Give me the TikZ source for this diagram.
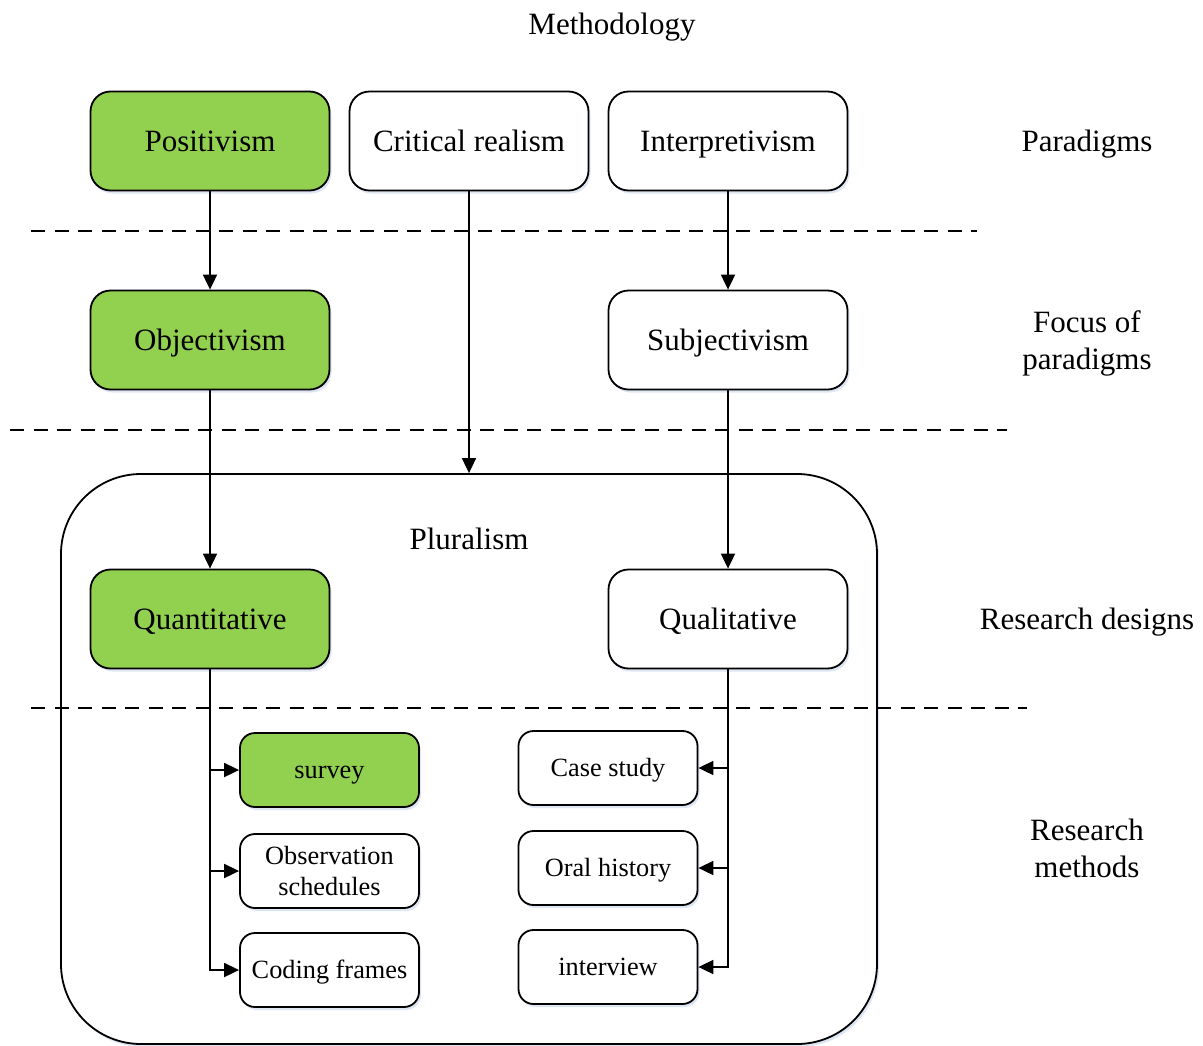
\documentclass[tikz,border=0pt]{standalone}
\usepackage{fontspec}
\setmainfont{Liberation Serif}
\usetikzlibrary{arrows.meta,shadows}
\definecolor{boxgreen}{RGB}{146,208,80}
\definecolor{shadowblue}{RGB}{200,214,236}
\begin{document}
\begin{tikzpicture}[x=1pt,y=-1pt,
  shade/.style={drop shadow={shadow xshift=2pt,shadow yshift=-3pt,fill=shadowblue,opacity=0.6}},
  onebig/.style={text height=20.5pt, text depth=0pt},
  onesmall/.style={text height=17.4pt, text depth=0pt},
  bigbox/.style={draw, line width=1.8pt, rounded corners=20pt, minimum width=239pt,
    minimum height=99pt, inner sep=0pt, fill=white, shade, align=center,
    font=\fontsize{31}{37}\selectfont},
  smallbox/.style={draw, line width=1.8pt, rounded corners=15pt, minimum width=179pt,
    minimum height=74pt, inner sep=0pt, fill=white, shade, align=center,
    font=\fontsize{26.3}{31}\selectfont},
  green/.style={fill=boxgreen},
  lbl/.style={align=center, inner sep=0pt, font=\fontsize{31}{37}\selectfont},
  sep/.style={line width=1.8pt, dash pattern=on 14pt off 9.5pt},
  conn/.style={line width=1.8pt, -{Triangle[length=15pt,width=14pt]}}
]
\clip (0,0) rectangle (1203,1045);
\fill[white] (0,0) rectangle (1203,1045);

% pluralism container
\node[draw, line width=1.8pt, rounded corners=80pt, minimum width=816pt, minimum height=570pt,
  fill=white, shade] (plural) at (469,759) {};
\node[lbl, onebig] (pluraltxt) at (469,539) {Pluralism};

% separators
\coordinate (s1a) at (31,231);  \coordinate (s1b) at (977,231);
\coordinate (s2a) at (10,430);  \coordinate (s2b) at (1007,430);
\coordinate (s3a) at (31,708);  \coordinate (s3b) at (1027,708);
\draw[sep] (s1a) -- (s1b);
\draw[sep] (s2a) -- (s2b);
\draw[sep] (s3a) -- (s3b);

% title and side labels
\node[lbl, onebig] (title) at (612,24) {Methodology};
\node[lbl, onebig] (lparad) at (1087,141) {Paradigms};
\node[lbl] (lfocus) at (1087,343) {Focus of\\paradigms};
\node[lbl, onebig] (ldesign) at (1087,619) {Research designs};
\node[lbl] (lmeth) at (1087,848) {Research\\methods};

% main boxes
\node[bigbox, onebig, green] (posit) at (210,141) {Positivism};
\node[bigbox, onebig] (crit) at (469,141) {Critical realism};
\node[bigbox, onebig] (interp) at (728,141) {Interpretivism};
\node[bigbox, onebig, green] (obj) at (210,340) {Objectivism};
\node[bigbox, onebig] (subj) at (728,340) {Subjectivism};
\node[bigbox, onebig, green] (quant) at (210,619) {Quantitative};
\node[bigbox, onebig] (qual) at (728,619) {Qualitative};

% method boxes
\node[smallbox, onesmall, green] (survey) at (329.5,770) {survey};
\node[smallbox] (obs) at (329.5,871) {Observation\\schedules};
\node[smallbox, onesmall] (coding) at (329.5,970) {Coding frames};
\node[smallbox, onesmall] (case) at (608,768) {Case study};
\node[smallbox, onesmall] (oral) at (608,868) {Oral history};
\node[smallbox, onesmall] (interv) at (608,967) {interview};

% connectors
\draw[conn] (posit) -- (obj);
\draw[conn] (obj) -- (quant);
\draw[conn] (interp) -- (subj);
\draw[conn] (subj) -- (qual);
\draw[conn] (crit.south) -- (plural.north);
\draw[conn] (quant.south) |- (survey.west);
\draw[conn] (quant.south) |- (obs.west);
\draw[conn] (quant.south) |- (coding.west);
\draw[conn] (qual.south) |- (case.east);
\draw[conn] (qual.south) |- (oral.east);
\draw[conn] (qual.south) |- (interv.east);
\end{tikzpicture}
\end{document}
